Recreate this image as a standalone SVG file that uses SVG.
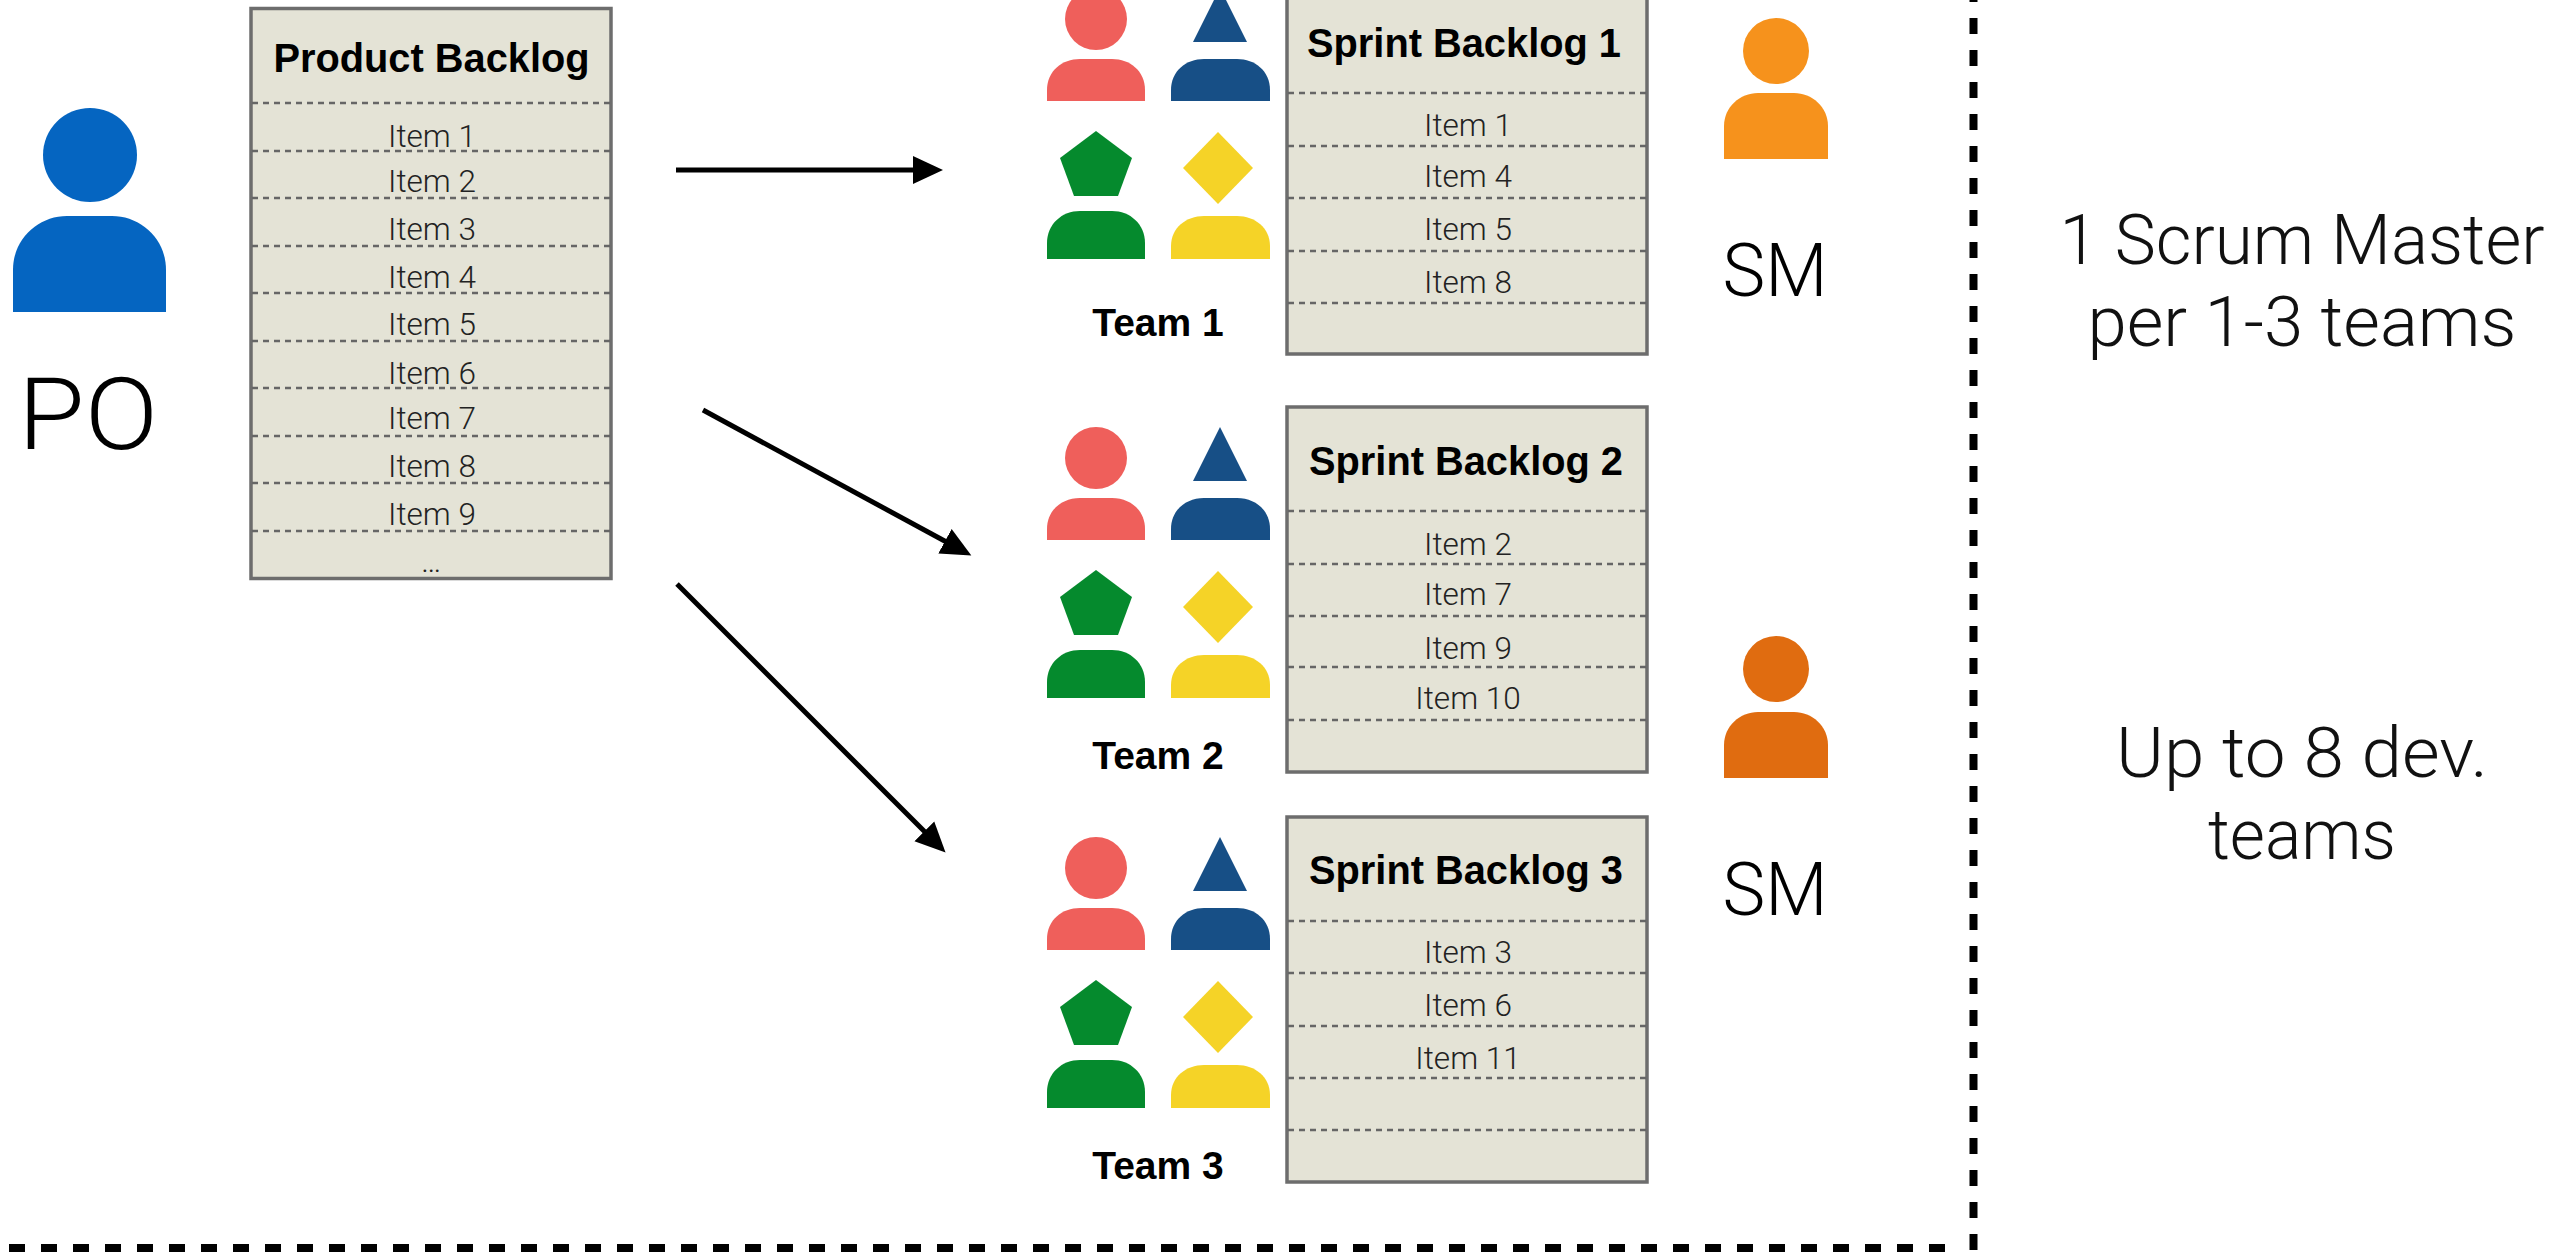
<svg xmlns="http://www.w3.org/2000/svg" xmlns:xlink="http://www.w3.org/1999/xlink" width="2569" height="1252" viewBox="0 0 2569 1252">
<style>
text{text-anchor:middle;font-family:"Roboto","Liberation Sans",sans-serif;font-weight:300;fill:#111}
.t{font-family:"Liberation Sans",Arial,sans-serif;font-weight:700;font-size:39.800px;fill:#000}
.tm{font-family:"Liberation Sans",Arial,sans-serif;font-weight:700;font-size:39px;fill:#000}
.i{font-size:31.500px;fill:#222}
.big{font-size:74px;fill:#000}
.r{font-size:70px;fill:#111}
.box{fill:#E4E3D6;stroke:#6D6D6D;stroke-width:3.5}
.d{stroke:#666;stroke-width:2.5;stroke-dasharray:6 5;fill:none}
.a{stroke:#000;stroke-width:5;fill:none;marker-end:url(#ah)}
.b{stroke:#000;stroke-width:8;fill:none;stroke-dasharray:16 16}
.red{fill:#EF5F5B}.blue{fill:#174F86}.green{fill:#058A2D}.yellow{fill:#F5D327}
</style>
<defs>
<marker id="ah" markerUnits="userSpaceOnUse" markerWidth="34" markerHeight="34" refX="8" refY="16" orient="auto"><path d="M0 2L30 16L0 30Z" fill="#000"/></marker>
<g id="team">
<circle class="red" cx="1096" cy="868" r="31"/>
<path class="red" d="M1047 950V939C1047 920 1062 908 1080 908H1112C1130 908 1145 920 1145 939V950Z"/>
<path class="blue" d="M1220 837L1247 891H1193Z"/>
<path class="blue" d="M1171 950V939C1171 920 1186 908 1204 908H1237C1255 908 1270 920 1270 939V950Z"/>
<path class="green" d="M1096 980L1132 1007L1118 1045H1074L1060 1007Z"/>
<path class="green" d="M1047 1108V1092C1047 1073 1062 1060 1080 1060H1112C1130 1060 1145 1073 1145 1092V1108Z"/>
<path class="yellow" d="M1218 981L1253 1017L1218 1053L1183 1017Z"/>
<path class="yellow" d="M1171 1108V1095C1171 1077 1186 1065 1204 1065H1237C1255 1065 1270 1077 1270 1095V1108Z"/>
</g>
<path id="sbody" d="M1724 159V126C1724 107 1740 93 1758 93H1794C1812 93 1828 107 1828 126V159Z"/>
</defs>

<g id="connectors">
<line class="a" x1="676" y1="170" x2="921" y2="170"/>
<line class="a" x1="703" y1="410" x2="952" y2="545"/>
<line class="a" x1="677" y1="584" x2="930" y2="837"/>
<line class="b" x1="1973.5" y1="-14" x2="1973.5" y2="1252"/>
<line class="b" x1="-23" y1="1248" x2="1946" y2="1248"/>
</g>

<g id="po">
<circle cx="90" cy="155" r="47" fill="#0565C1"/>
<path fill="#0565C1" d="M13 312V270C13 238 39 216 67 216H112C140 216 166 238 166 270V312Z"/>
<text class="big" x="88" y="449" style="font-size:100px" textLength="140" lengthAdjust="spacingAndGlyphs">PO</text>
</g>

<g id="product-backlog">
<rect class="box" x="251" y="8.500" width="360" height="570"/>
<path class="d" d="M252 103H610M252 151H610M252 198H610M252 246H610M252 293H610M252 341H610M252 388H610M252 436H610M252 483H610M252 531H610"/>
<text class="t" x="431.500" y="72">Product Backlog</text>
<text class="i" x="432" y="147">Item 1</text>
<text class="i" x="432" y="192">Item 2</text>
<text class="i" x="432" y="240">Item 3</text>
<text class="i" x="432" y="288">Item 4</text>
<text class="i" x="432" y="335">Item 5</text>
<text class="i" x="432" y="384">Item 6</text>
<text class="i" x="432" y="429">Item 7</text>
<text class="i" x="432" y="477">Item 8</text>
<text class="i" x="432" y="525">Item 9</text>
<text class="i" x="431" y="572" textLength="30">…</text>
</g>

<g id="team-1">
<use href="#team" y="-849"/>
<text class="tm" x="1158" y="336">Team 1</text>
</g>
<g id="team-2">
<use href="#team" y="-410"/>
<text class="tm" x="1158" y="769">Team 2</text>
</g>
<g id="team-3">
<use href="#team"/>
<text class="tm" x="1158" y="1179">Team 3</text>
</g>

<g id="sprint-backlog-1">
<rect class="box" x="1287" y="-10" width="360" height="364"/>
<path class="d" d="M1288 93H1646M1288 146H1646M1288 198H1646M1288 251H1646M1288 303H1646"/>
<text class="t" x="1464" y="57">Sprint Backlog 1</text>
<text class="i" x="1468" y="136">Item 1</text>
<text class="i" x="1468" y="187">Item 4</text>
<text class="i" x="1468" y="240">Item 5</text>
<text class="i" x="1468" y="293">Item 8</text>
</g>
<g id="sprint-backlog-2">
<rect class="box" x="1287" y="407" width="360" height="365"/>
<path class="d" d="M1288 511H1646M1288 564H1646M1288 616H1646M1288 667H1646M1288 720H1646"/>
<text class="t" x="1466" y="475">Sprint Backlog 2</text>
<text class="i" x="1468" y="555">Item 2</text>
<text class="i" x="1468" y="605">Item 7</text>
<text class="i" x="1468" y="659">Item 9</text>
<text class="i" x="1468" y="709">Item 10</text>
</g>
<g id="sprint-backlog-3">
<rect class="box" x="1287" y="817" width="360" height="365"/>
<path class="d" d="M1288 921H1646M1288 973H1646M1288 1026H1646M1288 1078H1646M1288 1130H1646"/>
<text class="t" x="1466" y="884">Sprint Backlog 3</text>
<text class="i" x="1468" y="963">Item 3</text>
<text class="i" x="1468" y="1016">Item 6</text>
<text class="i" x="1468" y="1069">Item 11</text>
</g>

<g id="sm-1">
<circle cx="1776" cy="51" r="33" fill="#F6921C"/>
<use href="#sbody" fill="#F6921C"/>
<text class="big" x="1775" y="296" textLength="105" lengthAdjust="spacingAndGlyphs">SM</text>
</g>
<g id="sm-2">
<circle cx="1776" cy="669" r="33" fill="#E06C10"/>
<use href="#sbody" y="619" fill="#E06C10"/>
<text class="big" x="1775" y="915" textLength="105" lengthAdjust="spacingAndGlyphs">SM</text>
</g>

<g id="note-1">
<text class="r" x="2302" y="264" textLength="485" lengthAdjust="spacingAndGlyphs">1 Scrum Master</text>
<text class="r" x="2302" y="346" textLength="429" lengthAdjust="spacingAndGlyphs">per 1-3 teams</text>
</g>
<g id="note-2">
<text class="r" x="2302" y="777" textLength="372" lengthAdjust="spacingAndGlyphs">Up to 8 dev.</text>
<text class="r" x="2302" y="859" textLength="188" lengthAdjust="spacingAndGlyphs">teams</text>
</g>
</svg>
